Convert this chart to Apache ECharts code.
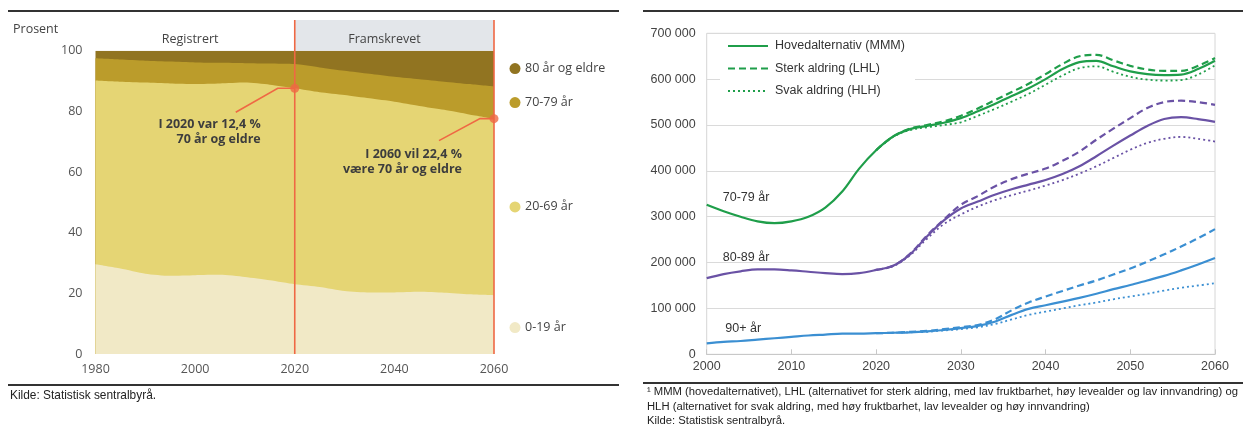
<!DOCTYPE html>
<html>
<head>
<meta charset="utf-8">
<script src="https://cdn.jsdelivr.net/npm/echarts@6/dist/echarts.min.js"></script>
<style>
  html, body { margin: 0; padding: 0; background: #fff; }
  #c { width: 1245px; height: 426px; }
</style>
</head>
<body>
<div id="c"></div>
<script>
// ---- Age structure, share of population (per cent) ----
const shareYears   = [1980, 1985, 1990, 1995, 2000, 2005, 2010, 2015, 2020, 2025, 2030, 2035, 2040, 2045, 2050, 2055, 2060];
const share0to19   = [29.6, 28.2, 26.5, 25.8, 26.0, 26.1, 25.4, 24.3, 23.0, 22.1, 20.8, 20.3, 20.3, 20.5, 20.2, 19.7, 19.4];
const share20to69  = [60.6, 61.6, 63.0, 63.4, 63.0, 63.1, 64.1, 64.5, 64.6, 64.2, 64.6, 64.0, 62.9, 61.3, 60.3, 59.3, 58.2];
const share70to79  = [7.3, 7.3, 7.2, 7.2, 7.1, 6.8, 6.4, 7.0, 8.0, 8.2, 8.0, 8.1, 8.2, 8.8, 9.3, 10.0, 10.6];
const share80plus  = [2.5, 2.9, 3.3, 3.6, 3.9, 4.0, 4.1, 4.2, 4.4, 5.5, 6.6, 7.6, 8.6, 9.4, 10.2, 11.0, 11.8];
const shareNames   = ['0-19 år', '20-69 år', '70-79 år', '80 år og eldre'];
const shareColors  = ['#f1e9c6', '#e5d574', '#bb9c2b', '#917421'];
const splitYear    = 2020;   // last registered year
const share70plus2020 = 12.4;
const share70plus2060 = 22.4;

// ---- Number of elderly by age group and scenario (thousands) ----
const popYears      = [2000,2002,2004,2006,2008,2010,2012,2014,2016,2018,2020,2022,2024,2026,2028,2030,2032,2034,2036,2038,2040,2042,2044,2046,2048,2050,2052,2054,2056,2058,2060];
const scenarioYears = [2020,2022,2024,2026,2028,2030,2032,2034,2036,2038,2040,2042,2044,2046,2048,2050,2052,2054,2056,2058,2060];
const age70to79MMM = [326,312,300,290,286,290,300,320,355,405,445,475,491,498,505,515,530,546,563,580,600,622,637,640,628,617,611,609,610,622,640];
const age70to79LHL = [445,475,492,500,508,520,536,554,572,590,611,633,650,653,641,629,621,618,618,629,646];
const age70to79HLH = [445,474,489,495,500,506,520,535,551,568,588,608,624,628,616,605,599,597,598,610,630];
const age80to89MMM = [166,175,181,185,185,183,180,177,175,177,184,193,218,257,292,318,333,348,360,370,380,393,410,432,455,477,498,513,517,513,507];
const age80to89LHL = [184,193,219,259,294,326,345,366,382,394,405,422,442,468,492,515,537,550,553,550,544];
const age80to89HLH = [184,192,216,252,284,305,322,336,347,357,368,380,394,410,428,446,461,470,474,470,464];
const age90plusMMM = [24,27,29,32,35,38,41,43,45,45,46,47,48,50,53,57,62,71,86,99,107,115,123,132,142,151,161,171,183,196,210];
const age90plusLHL = [46,47,49,51,55,59,64,76,96,113,126,138,150,161,174,187,202,218,235,253,273];
const age90plusHLH = [46,47,48,49,52,55,59,66,76,86,93,100,107,113,120,126,132,139,145,150,155];
const scenarioNames = ['Hovedalternativ (MMM)', 'Sterk aldring (LHL)', 'Svak aldring (HLH)'];
const ageGroupNames = ['70-79 år', '80-89 år', '90+ år'];
const ageColors     = ['#1f9e4a', '#6a52a5', '#3b8fd2'];

const pairs = (xs, ys) => xs.map((x, i) => [x, ys[i]]);
const leftFont  = '"Open Sans", "DejaVu Sans", sans-serif';
const rightFont = '"Liberation Sans", Arial, sans-serif';
const red = '#ef6844';

// Cumulative upper edge of each age band; bands are painted from the top one down,
// each filled to the baseline, so the visible strip is the band itself.
const shareGroups = [share0to19, share20to69, share70to79, share80plus];
const cumulative = shareGroups.map((_, g) =>
  shareYears.map((_, i) => {
    let s = 0;
    for (let k = 0; k <= g; k++) s += shareGroups[k][i];
    return Math.round(s * 10) / 10;
  })
);
const shareSeries = [3, 2, 1, 0].map(g => ({
  name: shareNames[g],
  type: 'line',
  xAxisIndex: 0, yAxisIndex: 0,
  data: pairs(shareYears, cumulative[g]),
  symbol: 'none',
  smooth: 0.2,
  lineStyle: { width: 0 },
  areaStyle: { color: shareColors[g], opacity: 1, origin: 'start' },
  itemStyle: { color: shareColors[g] },
  z: 2,
  silent: true
}));

const scenarioSets = [
  [age70to79MMM, age70to79LHL, age70to79HLH],
  [age80to89MMM, age80to89LHL, age80to89HLH],
  [age90plusMMM, age90plusLHL, age90plusHLH]
];
const lineStyles = [
  { type: 'solid', width: 2.2 },
  { type: [7, 4], width: 2.2 },
  { type: [2, 3], width: 1.8 }
];
const popSeries = [];
scenarioSets.forEach((set, g) => {
  set.forEach((vals, s) => {
    popSeries.push({
      name: ageGroupNames[g] + ' – ' + scenarioNames[s],
      type: 'line',
      xAxisIndex: 1, yAxisIndex: 1,
      data: s === 0 ? pairs(popYears, vals) : pairs(scenarioYears, vals),
      symbol: 'none',
      smooth: 0.35,
      lineStyle: Object.assign({ color: ageColors[g] }, lineStyles[s]),
      itemStyle: { color: ageColors[g] },
      z: 3 + (s === 0 ? 1 : 0),
      silent: true
    });
  });
});

const markerSeries = {
  type: 'scatter',
  xAxisIndex: 0, yAxisIndex: 0,
  data: [[splitYear, 100 - share70plus2020], [2060, 100 - share70plus2060]],
  symbolSize: 9,
  itemStyle: { color: red },
  clip: false,
  z: 6,
  silent: true
};

const option = {
  animation: false,
  backgroundColor: '#fff',
  textStyle: { fontFamily: leftFont },
  grid: [
    { left: 95.5, top: 50.7, width: 398.5, height: 303.3 },
    { left: 706.7, top: 33.3, width: 508.3, height: 321, show: true, borderColor: '#d6d6d6', borderWidth: 1 }
  ],
  xAxis: [
    {
      gridIndex: 0, type: 'value', min: 1980, max: 2060, interval: 20,
      axisLine: { show: false }, axisTick: { show: false }, splitLine: { show: false },
      axisLabel: { color: '#555', fontSize: 12.5, margin: 9, fontFamily: leftFont, formatter: v => String(v) }
    },
    {
      gridIndex: 1, type: 'value', min: 2000, max: 2060, interval: 10,
      axisLine: { show: true, lineStyle: { color: '#c8c8c8' } },
      axisTick: { show: true, inside: true, length: 5, lineStyle: { color: '#c8c8c8' } },
      splitLine: { show: false },
      axisLabel: { color: '#444', fontSize: 12.5, margin: 6, fontFamily: rightFont, formatter: v => String(v) }
    }
  ],
  yAxis: [
    {
      gridIndex: 0, type: 'value', min: 0, max: 100, interval: 20,
      axisLine: { show: false }, axisTick: { show: false }, splitLine: { show: false },
      axisLabel: { color: '#555', fontSize: 12.5, margin: 13, fontFamily: leftFont }
    },
    {
      gridIndex: 1, type: 'value', min: 0, max: 700, interval: 100,
      axisLine: { show: false }, axisTick: { show: false },
      splitLine: { show: true, lineStyle: { color: '#dadada', width: 1 } },
      axisLabel: {
        color: '#444', fontSize: 12.5, margin: 11, fontFamily: rightFont,
        formatter: v => v === 0 ? '0' : v + ' 000'
      }
    }
  ],
  series: shareSeries.concat(popSeries, [markerSeries])
};

const chart = echarts.init(document.getElementById('c'));
chart.setOption(option);

const px = (g, pt) => chart.convertToPixel({ gridIndex: g }, pt);

// ---- overlay: headers, divider lines, annotations, labels, legend, rules ----
const gfx = [];
const leftTop = px(0, [1980, 100]);
const leftBottom = px(0, [1980, 0]);
const xSplit = px(0, [splitYear, 0])[0];
const xEnd = px(0, [2060, 0])[0];

// projection header band
gfx.push({ type: 'rect', shape: { x: xSplit, y: 20, width: xEnd - xSplit, height: leftTop[1] - 20 },
  style: { fill: '#e3e6ea' }, z: 1 });
gfx.push({ type: 'text', x: px(0, [1999, 0])[0], y: 39.5,
  style: { text: 'Registrert', fill: '#444', font: '12.5px ' + leftFont, textAlign: 'center', textVerticalAlign: 'middle' }, z: 5 });
gfx.push({ type: 'text', x: px(0, [2038, 0])[0], y: 39.5,
  style: { text: 'Framskrevet', fill: '#444', font: '12.5px ' + leftFont, textAlign: 'center', textVerticalAlign: 'middle' }, z: 5 });

// divider lines
[xSplit, xEnd].forEach(x => {
  gfx.push({ type: 'line', shape: { x1: x, y1: 20, x2: x, y2: leftBottom[1] },
    style: { stroke: red, lineWidth: 1.6 }, z: 5 });
});

// axis title
gfx.push({ type: 'text', x: 13, y: 29,
  style: { text: 'Prosent', fill: '#444', font: '12.5px ' + leftFont, textVerticalAlign: 'middle' }, z: 5 });

// annotation 2020
const d20 = px(0, [splitYear, 100 - share70plus2020]);
gfx.push({ type: 'polyline', shape: { points: [[d20[0], d20[1]], [d20[0] - 17, d20[1]], [d20[0] - 59, d20[1] + 24]] },
  style: { stroke: red, lineWidth: 1.6, fill: null }, z: 5 });
gfx.push({ type: 'text', x: d20[0] - 34, y: d20[1] + 29,
  style: { text: 'I 2020 var 12,4 %\n70 år og eldre', fill: '#3d3d3d', font: 'bold 12.5px ' + leftFont,
    textAlign: 'right', lineHeight: 15 }, z: 5 });

// annotation 2060
const d60 = px(0, [2060, 100 - share70plus2060]);
gfx.push({ type: 'polyline', shape: { points: [[d60[0], d60[1]], [d60[0] - 14, d60[1]], [d60[0] - 55, d60[1] + 22]] },
  style: { stroke: red, lineWidth: 1.6, fill: null }, z: 5 });
gfx.push({ type: 'text', x: d60[0] - 32, y: d60[1] + 28,
  style: { text: 'I 2060 vil 22,4 %\nvære 70 år og eldre', fill: '#3d3d3d', font: 'bold 12.5px ' + leftFont,
    textAlign: 'right', lineHeight: 15 }, z: 5 });

// end-of-area labels for the age bands
const last = shareYears.length - 1;
let base = 0;
shareGroups.forEach((vals, i) => {
  const mid = base + vals[last] / 2;
  base += vals[last];
  const y = px(0, [2060, mid])[1] + (i === 0 ? 3 : 0);
  gfx.push({ type: 'circle', shape: { cx: 515, cy: y, r: 5.5 }, style: { fill: shareColors[i] }, z: 5 });
  gfx.push({ type: 'text', x: 525, y: y,
    style: { text: shareNames[i], fill: '#444', font: '12.5px ' + leftFont, textVerticalAlign: 'middle' }, z: 5 });
});

// scenario legend (line styles shown in the 70-79 colour)
gfx.push({ type: 'rect', shape: { x: 720, y: 36, width: 195, height: 65 }, style: { fill: '#fff' }, z: 4 });
scenarioNames.forEach((name, s) => {
  const y = 46 + s * 22.5;
  const st = lineStyles[s];
  gfx.push({ type: 'line', shape: { x1: 728, y1: y, x2: 768, y2: y },
    style: { stroke: ageColors[0], lineWidth: st.width, lineDash: Array.isArray(st.type) ? st.type : null }, z: 5 });
  gfx.push({ type: 'text', x: 775, y: y,
    style: { text: name, fill: '#333', font: '12.5px ' + rightFont, textVerticalAlign: 'middle' }, z: 5 });
});

// age-group labels on the right chart
[[2001.9, 341], [2001.9, 212], [2002.2, 57]].forEach((p, i) => {
  const q = px(1, p);
  gfx.push({ type: 'text', x: q[0], y: q[1],
    style: { text: ageGroupNames[i], fill: '#333', font: '12.5px ' + rightFont, textVerticalAlign: 'middle' }, z: 5 });
});

// frame rules
[[8, 11, 619, 11], [643, 11, 1243, 11], [8, 385, 619, 385], [643, 383, 1243, 383]].forEach(l => {
  gfx.push({ type: 'line', shape: { x1: l[0], y1: l[1], x2: l[2], y2: l[3] },
    style: { stroke: '#333', lineWidth: 2 }, z: 5 });
});

// sources and footnote
gfx.push({ type: 'text', x: 10, y: 396,
  style: { text: 'Kilde: Statistisk sentralbyrå.', fill: '#222', font: '11.9px ' + rightFont, textVerticalAlign: 'middle' }, z: 5 });
gfx.push({ type: 'text', x: 647, y: 385,
  style: { text: '¹ MMM (hovedalternativet), LHL (alternativet for sterk aldring, med lav fruktbarhet, høy levealder og lav innvandring) og\nHLH (alternativet for svak aldring, med høy fruktbarhet, lav levealder og høy innvandring)\nKilde: Statistisk sentralbyrå.',
    fill: '#222', font: '11.25px ' + rightFont, lineHeight: 14.5, textVerticalAlign: 'top' }, z: 5 });

chart.setOption({ graphic: gfx });
</script>
</body>
</html>
